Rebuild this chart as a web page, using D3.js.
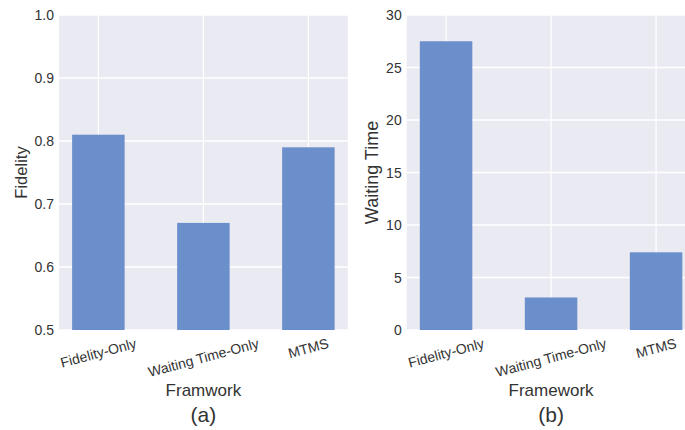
<!DOCTYPE html>
<html>
<head>
<meta charset="utf-8">
<script src="https://cdn.jsdelivr.net/npm/d3@7"></script>
<style>
  html, body { margin: 0; padding: 0; background: #fff; }
  svg { display: block; }
  text { font-family: "Liberation Sans", Arial, Helvetica, sans-serif; fill: #333; }
</style>
</head>
<body>
<svg id="chart" width="685" height="430"></svg>
<script>
// Categories shared by both panels
const frameworks = ["Fidelity-Only", "Waiting Time-Only", "MTMS"];

// Panel (a): fidelity per framework
const fidelityValues = [0.81, 0.67, 0.79];
const fidelityTicks = [0.5, 0.6, 0.7, 0.8, 0.9, 1.0];

// Panel (b): waiting time per framework
const waitingValues = [27.5, 3.1, 7.4];
const waitingTicks = [0, 5, 10, 15, 20, 25, 30];

const svg = d3.select("#chart");
const BG = "#EAEAF2";
const BAR = "#6B8FCA";

function panel(opts) {
  const { left, right, top, bottom, values, domain, ticks, fmt, yLabel, yLabelX, yLabelSize } = opts;
  const g = svg.append("g");

  const x = d3.scaleBand()
    .domain(frameworks)
    .range([left, right])
    .paddingInner(0.5)
    .paddingOuter(0.125);
  const y = d3.scaleLinear().domain(domain).range([bottom, top]);

  // background
  g.append("rect")
    .attr("x", left).attr("y", top)
    .attr("width", right - left).attr("height", bottom - top)
    .attr("fill", BG);

  // horizontal grid
  g.selectAll(".hgrid").data(ticks).join("line")
    .attr("x1", left).attr("x2", right)
    .attr("y1", d => y(d)).attr("y2", d => y(d))
    .attr("stroke", "#fff").attr("stroke-width", 1.3);

  // vertical grid
  g.selectAll(".vgrid").data(frameworks).join("line")
    .attr("x1", d => x(d) + x.bandwidth() / 2).attr("x2", d => x(d) + x.bandwidth() / 2)
    .attr("y1", top).attr("y2", bottom)
    .attr("stroke", "#fff").attr("stroke-width", 1.3);

  // bars
  g.selectAll(".bar").data(frameworks).join("rect")
    .attr("x", d => x(d))
    .attr("width", x.bandwidth())
    .attr("y", (d, i) => y(values[i]))
    .attr("height", (d, i) => y(domain[0]) - y(values[i]))
    .attr("fill", BAR);

  // y tick labels
  g.selectAll(".ytl").data(ticks).join("text")
    .attr("x", left - 5)
    .attr("y", d => y(d))
    .attr("text-anchor", "end")
    .attr("dominant-baseline", "central")
    .style("font-size", "14px")
    .text(fmt);

  // x tick labels, rotated 15 degrees, centred under each bar
  const xl = g.selectAll(".xtl").data(frameworks).join("text")
    .attr("text-anchor", "middle")
    .attr("dominant-baseline", "central")
    .style("font-size", "14px")
    .text(d => d);
  const a = 15 * Math.PI / 180;
  xl.each(function(d) {
    const w = this.getComputedTextLength();
    const h = 14;
    const rh = w * Math.sin(a) + h * Math.cos(a);
    const cx = x(d) + x.bandwidth() / 2;
    const cy = bottom + 6 + rh / 2;
    d3.select(this)
      .attr("x", cx).attr("y", cy)
      .attr("transform", `rotate(-15, ${cx}, ${cy})`);
  });

  // y axis title
  g.append("text")
    .attr("transform", `translate(${yLabelX}, ${(top + bottom) / 2}) rotate(-90)`)
    .attr("text-anchor", "middle")
    .attr("dominant-baseline", "central")
    .style("font-size", yLabelSize)
    .text(yLabel);

  return { x, y };
}

const pa = panel({
  left: 59, right: 347.75, top: 15, bottom: 330,
  values: fidelityValues, domain: [0.5, 1.0], ticks: fidelityTicks,
  fmt: d => d.toFixed(1), yLabel: "Fidelity", yLabelX: 21, yLabelSize: "16.5px"
});
const pb = panel({
  left: 406.7, right: 695.45, top: 15, bottom: 330,
  values: waitingValues, domain: [0, 30], ticks: waitingTicks,
  fmt: d => d, yLabel: "Waiting Time", yLabelX: 372, yLabelSize: "18px"
});

// x-axis titles and panel tags, centred on the middle category
function footer(sc, title, tag) {
  const cx = sc.x(frameworks[1]) + sc.x.bandwidth() / 2;
  svg.append("text")
    .attr("x", cx).attr("y", 390)
    .attr("text-anchor", "middle")
    .attr("dominant-baseline", "central")
    .style("font-size", "17px")
    .text(title);
  svg.append("text")
    .attr("x", cx).attr("y", 414)
    .attr("text-anchor", "middle")
    .attr("dominant-baseline", "central")
    .style("font-size", "21px")
    .text(tag);
}
footer(pa, "Framwork", "(a)");
footer(pb, "Framework", "(b)");
</script>
</body>
</html>
